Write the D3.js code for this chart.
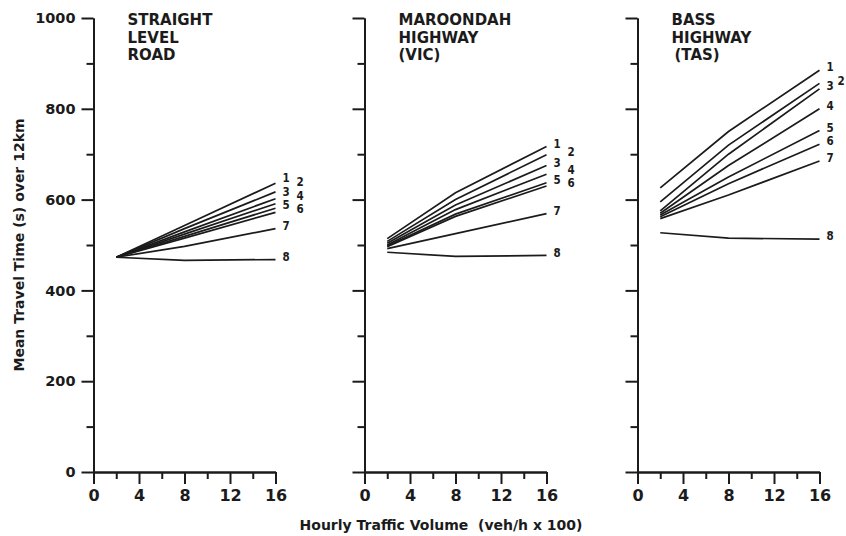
<!DOCTYPE html>
<html>
<head>
<meta charset="utf-8">
<script src="https://cdn.jsdelivr.net/npm/d3@7"></script>
<style>
  body { margin: 0; background: #fff; }
  text { font-family: "DejaVu Sans", sans-serif; font-weight: bold; fill: #1b1b1b; }
</style>
</head>
<body>
<div id="chart"></div>
<script>
const width = 846
const height = 536

// Datos
const volume = [2, 8, 16]
const seriesNames = ["1", "2", "3", "4", "5", "6", "7", "8"]
const titles = [
  ["STRAIGHT", "LEVEL", "ROAD"],
  ["MAROONDAH", "HIGHWAY", "(VIC)"],
  ["BASS", "HIGHWAY", "(TAS)"],
]
const straightRoad = [
  [473, 543, 636],
  [473, 536, 617],
  [473, 529, 602],
  [473, 524, 591],
  [473, 519, 581],
  [473, 515, 572],
  [473, 497, 536],
  [473, 466, 468],
]
const maroondah = [
  [514, 615, 717],
  [508, 600, 699],
  [504, 588, 675],
  [500, 578, 656],
  [498, 568, 637],
  [496, 563, 630],
  [492, 525, 569],
  [484, 475, 477],
]
const bass = [
  [626, 750, 885],
  [595, 720, 856],
  [575, 700, 844],
  [570, 675, 800],
  [566, 650, 752],
  [562, 635, 722],
  [558, 610, 685],
  [527, 515, 513],
]
const yTicks = [0, 200, 400, 600, 800, 1000]
const yMinor = [100, 300, 500, 700, 900]
const xTicks = [0, 4, 8, 12, 16]
const xMinor = [2, 6, 10, 14]
const yTitle = "Mean Travel Time (s) over 12km"
const xTitle = "Hourly Traffic Volume  (veh/h x 100)"

const panels = [straightRoad, maroondah, bass]

// Layout
const panelLeft = [93.5, 364.5, 637.5]
const panelWidth = 182
const plotTop = 18
const plotBottom = 472
// columna derecha para etiquetas que se pisan
const rightCol = [["2", "4", "6"], ["2", "4", "6"], ["2"]]
const ink = "#1b1b1b"

const svg = d3.select("#chart")
  .append("svg")
  .attr("width", width)
  .attr("height", height)

svg.append("rect").attr("width", width).attr("height", height).attr("fill", "#fff")

//Escalas
const x = d3.scaleLinear().domain([0, 16]).range([0, panelWidth])
const y = d3.scaleLinear().domain([0, 1000]).range([plotBottom, plotTop])

const line = d3.line()
  .x(d => x(d[0]))
  .y(d => y(d[1]))

const styleAxis = size => g => {
  g.select(".domain").attr("stroke", ink).attr("stroke-width", 2)
  g.selectAll(".tick line").attr("stroke", ink).attr("stroke-width", 2)
  g.selectAll(".tick text")
    .attr("fill", ink)
    .style("font-family", "'DejaVu Sans', sans-serif")
    .style("font-weight", "bold")
    .style("font-size", size)
}

panels.forEach((data, p) => {
  const g = svg.append("g")
    .attr("transform", `translate(${panelLeft[p]}, 0)`)

  // ejes Y
  g.append("g")
    .call(d3.axisLeft(y).tickValues(yMinor).tickSize(7).tickFormat("").tickSizeOuter(0))
    .call(styleAxis("14px"))
  g.append("g")
    .call(d3.axisLeft(y).tickValues(yTicks).tickSize(12).tickPadding(6).tickSizeOuter(0)
      .tickFormat(p === 0 ? d3.format("d") : ""))
    .call(styleAxis("14.5px"))

  // ejes X
  g.append("g")
    .attr("transform", `translate(0, ${plotBottom})`)
    .call(d3.axisBottom(x).tickValues(xMinor).tickSize(7).tickFormat("").tickSizeOuter(0))
    .call(styleAxis("14px"))
  g.append("g")
    .attr("transform", `translate(0, ${plotBottom})`)
    .call(d3.axisBottom(x).tickValues(xTicks).tickSize(12).tickPadding(6).tickSizeOuter(0))
    .call(styleAxis("16px"))

  // titulo del panel
  g.append("text")
    .attr("x", 34)
    .attr("y", 25)
    .style("font-size", "15px")
    .selectAll("tspan").data(titles[p])
    .enter()
    .append("tspan")
      .attr("x", (d, i) => p === 2 && i === 2 ? 37 : 34)
      .attr("dy", (d, i) => i === 0 ? 0 : 17.5)
      .text(d => d)

  // lineas
  const rows = data.map((vals, i) => ({
    name: seriesNames[i],
    points: vals.map((v, j) => [volume[j], v]),
  }))

  g.selectAll("path.series").data(rows)
    .enter()
    .append("path")
      .attr("class", "series")
      .attr("d", d => line(d.points))
      .attr("fill", "none")
      .attr("stroke", ink)
      .attr("stroke-width", 1.7)

  // etiquetas con separacion minima por columna
  const labels = rows.map(d => ({
    name: d.name,
    right: rightCol[p].includes(d.name),
    ly: y(d.points[d.points.length - 1][1]) - 3,
  }))
  ;[false, true].forEach(side => {
    const col = labels.filter(l => l.right === side)
    for (let i = col.length - 2; i >= 0; i--) {
      if (col[i + 1].ly - col[i].ly < 13.5) col[i].ly = col[i + 1].ly - 13.5
    }
  })

  g.selectAll("text.lab").data(labels)
    .enter()
    .append("text")
      .attr("class", "lab")
      .attr("x", d => x(16) + (d.right ? (p === 2 ? 18 : 21) : 7))
      .attr("y", d => d.ly)
      .attr("dy", "0.36em")
      .style("font-family", "'DejaVu Sans Condensed', 'DejaVu Sans', sans-serif")
      .style("font-size", "11.5px")
      .text(d => d.name)
})

// titulos de ejes
svg.append("text")
  .attr("transform", `translate(24, 245) rotate(-90)`)
  .attr("text-anchor", "middle")
  .style("font-size", "14px")
  .text(yTitle)

svg.append("text")
  .attr("x", 441)
  .attr("y", 530)
  .attr("text-anchor", "middle")
  .style("font-size", "14px")
  .style("white-space", "pre")
  .text(xTitle)
</script>
</body>
</html>
